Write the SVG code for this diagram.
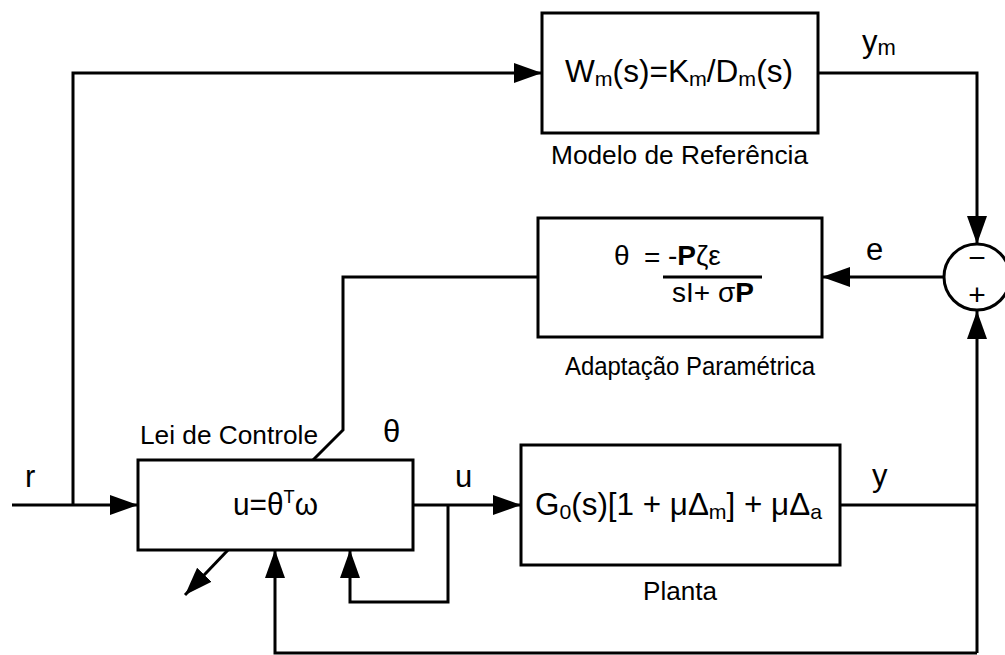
<svg xmlns="http://www.w3.org/2000/svg" width="1005" height="655" viewBox="0 0 1005 655">
<style>
.blk{fill:#fff;stroke:#000;stroke-width:3}
.ln{fill:none;stroke:#000;stroke-width:3;stroke-linejoin:miter}
.t{font-family:"Liberation Sans",Arial,sans-serif;fill:#000}
.main{font-size:31px}
.lab{font-size:25px}
.sig{font-size:31px}
</style>
<defs>
<marker id="ah" markerUnits="userSpaceOnUse" markerWidth="30" markerHeight="22" refX="28" refY="11" orient="auto">
<path d="M0,1 L28,11 L0,21 Z" fill="#000"/>
</marker>
</defs>
<rect width="1005" height="655" fill="#fff"/>
<g id="connectors">
<path class="ln" d="M12,505 L138,505" marker-end="url(#ah)"/>
<path class="ln" d="M73,505 L73,73 L542,73" marker-end="url(#ah)"/>
<path class="ln" d="M818,73 L977,73 L977,244" marker-end="url(#ah)"/>
<path class="ln" d="M944,277 L822,277" marker-end="url(#ah)"/>
<path class="ln" d="M538,277 L343,277 L343,430 L313,460"/>
<path class="ln" d="M413,505 L521,505" marker-end="url(#ah)"/>
<path class="ln" d="M448,505 L448,602 L350,602 L350,550" marker-end="url(#ah)"/>
<path class="ln" d="M840,505 L977,505"/>
<path class="ln" d="M977,653 L977,311" marker-end="url(#ah)"/>
<path class="ln" d="M977,653 L275,653 L275,550" marker-end="url(#ah)"/>
<path class="ln" d="M228,550 L185,595" marker-end="url(#ah)"/>
</g>
<g id="modelo">
<rect class="blk" x="542" y="13" width="276" height="120"/>
<text class="t main" x="565" y="82" textLength="228" lengthAdjust="spacingAndGlyphs">W<tspan font-size="21" dy="4">m</tspan><tspan dy="-4">(s)=K</tspan><tspan font-size="21" dy="4">m</tspan><tspan dy="-4">/D</tspan><tspan font-size="21" dy="4">m</tspan><tspan dy="-4">(s)</tspan></text>
<text class="t lab" x="551" y="164" textLength="257" lengthAdjust="spacingAndGlyphs">Modelo de Referência</text>
</g>
<g id="ym">
<text class="t sig" x="862" y="52">y<tspan font-size="22" dy="3">m</tspan></text>
</g>
<g id="somador">
<circle cx="977" cy="277" r="33" fill="#fff" stroke="#000" stroke-width="3"/>
<text class="t" x="977" y="268" font-size="30" text-anchor="middle">−</text>
<text class="t" x="977" y="305" font-size="30" text-anchor="middle">+</text>
</g>
<g id="adaptacao">
<rect class="blk" x="538" y="218" width="284" height="119"/>
<text class="t" x="614" y="265" font-size="28">θ</text>
<text class="t" x="644" y="267" font-size="28">=</text>
<text class="t" x="668" y="265" font-size="28">-<tspan font-weight="bold">P</tspan>ζε</text>
<line x1="663" y1="277" x2="762" y2="277" stroke="#000" stroke-width="3"/>
<text class="t" x="672" y="302" font-size="28">sI+ σ<tspan font-weight="bold">P</tspan></text>
<text class="t lab" x="565" y="375" textLength="250" lengthAdjust="spacingAndGlyphs">Adaptação Paramétrica</text>
</g>
<g id="e-label">
<text class="t sig" x="866" y="260">e</text>
</g>
<g id="controle">
<rect class="blk" x="138" y="460" width="275" height="90"/>
<text class="t main" x="233" y="515" textLength="85" lengthAdjust="spacingAndGlyphs">u=θ<tspan font-size="19" dy="-12">T</tspan><tspan dy="12">ω</tspan></text>
<text class="t lab" x="140" y="444" textLength="178" lengthAdjust="spacingAndGlyphs">Lei de Controle</text>
<text class="t sig" x="383" y="442">θ</text>
</g>
<g id="r-label"><text class="t sig" x="25" y="487">r</text></g>
<g id="u-label"><text class="t sig" x="455" y="487">u</text></g>
<g id="planta">
<rect class="blk" x="521" y="445" width="319" height="120"/>
<text class="t main" x="535" y="515" textLength="287" lengthAdjust="spacingAndGlyphs">G<tspan font-size="21" dy="4">0</tspan><tspan dy="-4">(s)[1 + μΔ</tspan><tspan font-size="21" dy="4">m</tspan><tspan dy="-4">] + μΔ</tspan><tspan font-size="21" dy="4">a</tspan></text>
<text class="t lab" x="643" y="600" textLength="74" lengthAdjust="spacingAndGlyphs">Planta</text>
</g>
<g id="y-label"><text class="t sig" x="872" y="486">y</text></g>
</svg>
